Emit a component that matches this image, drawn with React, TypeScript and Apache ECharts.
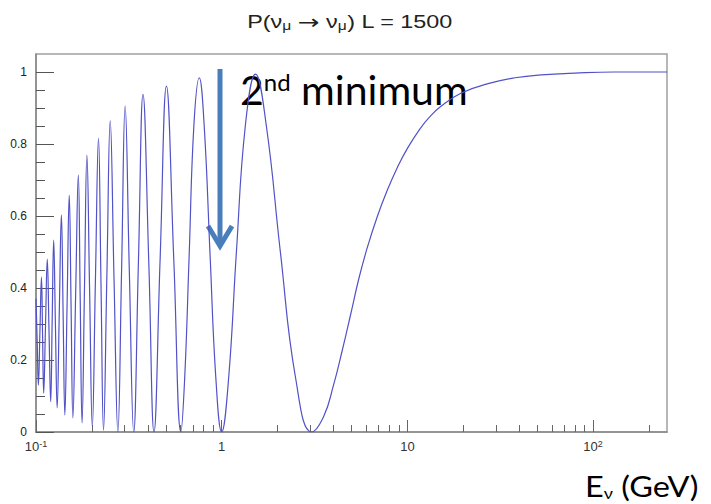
import React, { useEffect, useRef } from 'react';
import * as echarts from 'echarts';

// Neutrino energy (GeV): extrema and crossing points of the curve
const energy = [
  0.100, 0.1015, 0.103, 0.105, 0.107, 0.1085, 0.110, 0.1125, 0.115, 0.1175,
  0.120, 0.1222, 0.1245, 0.1272, 0.130, 0.1335, 0.137, 0.140, 0.143, 0.147,
  0.151, 0.1545, 0.158, 0.1634, 0.169, 0.173, 0.177, 0.1824, 0.188, 0.1944,
  0.201, 0.2088, 0.217, 0.2239, 0.231, 0.2408, 0.251, 0.263, 0.276, 0.289,
  0.302, 0.318, 0.336, 0.356, 0.377, 0.405, 0.432, 0.466, 0.504, 0.552,
  0.603, 0.632, 0.668, 0.708, 0.757, 0.805, 0.866, 0.93, 1.0, 1.09,
  1.2, 1.34, 1.52, 1.74, 2.07, 2.5, 3.05, 3.54, 4.0, 4.45,
  4.94, 5.47, 6.08, 6.88, 7.8, 8.83, 10, 11.8, 13, 15.1,
  19.4, 28.2, 38, 52.6, 80, 130, 250,
];

// Survival probability P(nu_mu -> nu_mu) at those energies
const prob = [
  0.37, 0.25, 0.13, 0.28, 0.43, 0.27, 0.108, 0.294, 0.48, 0.282,
  0.084, 0.308, 0.533, 0.30, 0.067, 0.335, 0.603, 0.325, 0.047, 0.352,
  0.658, 0.348, 0.039, 0.376, 0.714, 0.37, 0.025, 0.397, 0.769, 0.392,
  0.015, 0.415, 0.816, 0.41, 0.005, 0.434, 0.864, 0.43, 0, 0.45,
  0.905, 0.45, 0, 0.47, 0.938, 0.47, 0, 0.48, 0.961, 0.48,
  0, 0.15, 0.49, 0.85, 0.984, 0.85, 0.49, 0.15, 0, 0.15,
  0.5, 0.85, 0.994, 0.85, 0.5, 0.15, 0, 0.043, 0.13, 0.225,
  0.325, 0.425, 0.512, 0.598, 0.672, 0.735, 0.788, 0.845, 0.872, 0.904,
  0.941, 0.97, 0.984, 0.992, 0.997, 1.0, 1.0,
];

const xMin = 0.1;
const xMax = 250;
const xMajorTicks = [0.1, 1, 10, 100];
const xTickLabels = ['10{sup|-1}', '1', '10', '10{sup|2}'];
const xMinorTicks = [
  0.2, 0.3, 0.4, 0.5, 0.6, 0.7, 0.8, 0.9,
  2, 3, 4, 5, 6, 7, 8, 9,
  20, 30, 40, 50, 60, 70, 80, 90,
  200,
];

const yMin = 0;
const yMax = 1.05;
const yMajorTicks = [0, 0.2, 0.4, 0.6, 0.8, 1];
const yTickLabels = ['0', '0.2', '0.4', '0.6', '0.8', '1'];
const yMinorTicks = [
  0.05, 0.1, 0.15, 0.25, 0.3, 0.35, 0.45, 0.5, 0.55,
  0.65, 0.7, 0.75, 0.85, 0.9, 0.95,
];

const titleText = '{t|P(ν}{sub|μ}{t| }{arr|→}{t| ν}{sub|μ}{t|) L = 1500}';
const annotationText = '{b|2}{s|nd}{b| minimum}';
const xAxisTitle = '{b|E}{s|ν}{b| (GeV)}';

export default function App() {
  const ref = useRef<HTMLDivElement>(null);

  useEffect(() => {
    document.body.style.margin = '0';
    if (!ref.current) return;
    const chart = echarts.init(ref.current, null, { renderer: 'svg' });

    const axisFont = 'Liberation Sans, Arial, sans-serif';
    const slideFont = 'Lato, Open Sans, sans-serif';
    const xLabel = (v: number) => {
      const i = xMajorTicks.findIndex((t) => Math.abs(Math.log10(t) - Math.log10(v)) < 1e-6);
      return i >= 0 ? xTickLabels[i] : '';
    };
    const yLabel = (v: number) => {
      const i = yMajorTicks.findIndex((t) => Math.abs(t - v) < 1e-9);
      return i >= 0 ? yTickLabels[i] : '';
    };

    chart.setOption({
      animation: false,
      backgroundColor: '#ffffff',
      grid: {
        left: 36,
        right: 44,
        top: 54,
        bottom: 72,
        show: true,
        borderColor: '#a0a0a0',
        borderWidth: 1.5,
        outerBoundsMode: 'none',
      },
      xAxis: [
        {
          type: 'log',
          logBase: 10,
          min: xMin,
          max: xMax,
          position: 'bottom',
          axisLine: { show: true, lineStyle: { color: '#888', width: 1.5 } },
          axisTick: {
            show: true,
            inside: true,
            length: 12,
            customValues: xMajorTicks,
            lineStyle: { color: '#666', width: 1 },
          },
          minorTick: { show: false },
          splitLine: { show: false },
          axisLabel: {
            show: true,
            customValues: xMajorTicks,
            formatter: xLabel,
            margin: 7,
            fontSize: 13,
            lineHeight: 14,
            color: '#333',
            fontFamily: axisFont,
            rich: {
              sup: { fontSize: 9, lineHeight: 7, verticalAlign: 'top', color: '#333', fontFamily: axisFont },
            },
          },
        },
        {
          type: 'log',
          logBase: 10,
          min: xMin,
          max: xMax,
          position: 'bottom',
          axisLine: { show: false },
          axisTick: {
            show: true,
            inside: true,
            length: 7,
            customValues: xMinorTicks,
            lineStyle: { color: '#666', width: 1 },
          },
          axisLabel: { show: false },
          splitLine: { show: false },
        },
      ],
      yAxis: [
        {
          type: 'value',
          min: yMin,
          max: yMax,
          position: 'left',
          axisLine: { show: true, lineStyle: { color: '#888', width: 1.5 } },
          axisTick: {
            show: true,
            inside: true,
            length: 18,
            customValues: yMajorTicks,
            lineStyle: { color: '#555', width: 1 },
          },
          splitLine: { show: false },
          axisLabel: {
            show: true,
            customValues: yMajorTicks,
            formatter: yLabel,
            margin: 9,
            fontSize: 12,
            color: '#222',
            fontFamily: axisFont,
          },
        },
        {
          type: 'value',
          min: yMin,
          max: yMax,
          position: 'left',
          axisLine: { show: false },
          axisTick: {
            show: true,
            inside: true,
            length: 9,
            customValues: yMinorTicks,
            lineStyle: { color: '#555', width: 1 },
          },
          axisLabel: { show: false },
          splitLine: { show: false },
        },
      ],
      series: [
        {
          type: 'line',
          xAxisIndex: 0,
          yAxisIndex: 0,
          data: energy.map((e, i) => [e, prob[i]]),
          smooth: 0.45,
          showSymbol: false,
          clip: true,
          lineStyle: { color: '#5151c8', width: 1.2 },
        },
      ],
      graphic: [
        {
          type: 'text',
          x: 350,
          y: 11.5,
          scaleX: 1.3,
          style: {
            x: 0,
            y: 0,
            text: titleText,
            align: 'center',
            verticalAlign: 'top',
            fill: '#222',
            rich: {
              t: { fontSize: 18, lineHeight: 20, fontFamily: axisFont, fill: '#222' },
              arr: { fontSize: 20, lineHeight: 20, fontFamily: 'DejaVu Sans', fill: '#222' },
              sub: { fontSize: 12, lineHeight: 2, verticalAlign: 'bottom', fontFamily: axisFont, fill: '#222' },
            },
          },
        },
        {
          type: 'line',
          shape: { x1: 220, y1: 69, x2: 220, y2: 244 },
          style: { stroke: '#4a7ebb', lineWidth: 5 },
        },
        {
          type: 'polyline',
          shape: { points: [[208, 226], [220, 246], [232, 226]] },
          style: { stroke: '#4a7ebb', lineWidth: 5, fill: null, lineJoin: 'miter' },
        },
        {
          type: 'text',
          x: 240,
          y: 69,
          style: {
            x: 0,
            y: 0,
            text: annotationText,
            align: 'left',
            verticalAlign: 'top',
            fill: '#000',
            rich: {
              b: { fontSize: 41, lineHeight: 41, fontFamily: slideFont, fill: '#000' },
              s: { fontSize: 24, lineHeight: 23, verticalAlign: 'top', fontFamily: slideFont, fill: '#000' },
            },
          },
        },
        {
          type: 'text',
          x: 585,
          y: 471.5,
          scaleX: 1.12,
          style: {
            x: 0,
            y: 0,
            text: xAxisTitle,
            align: 'left',
            verticalAlign: 'top',
            fill: '#000',
            rich: {
              b: { fontSize: 29, lineHeight: 29, fontFamily: slideFont, fill: '#000' },
              s: { fontSize: 16, lineHeight: 13, verticalAlign: 'bottom', fontFamily: slideFont, fill: '#000' },
            },
          },
        },
      ],
    });

    return () => {
      chart.dispose();
    };
  }, []);

  return <div ref={ref} style={{ width: 711, height: 504 }} />;
}
